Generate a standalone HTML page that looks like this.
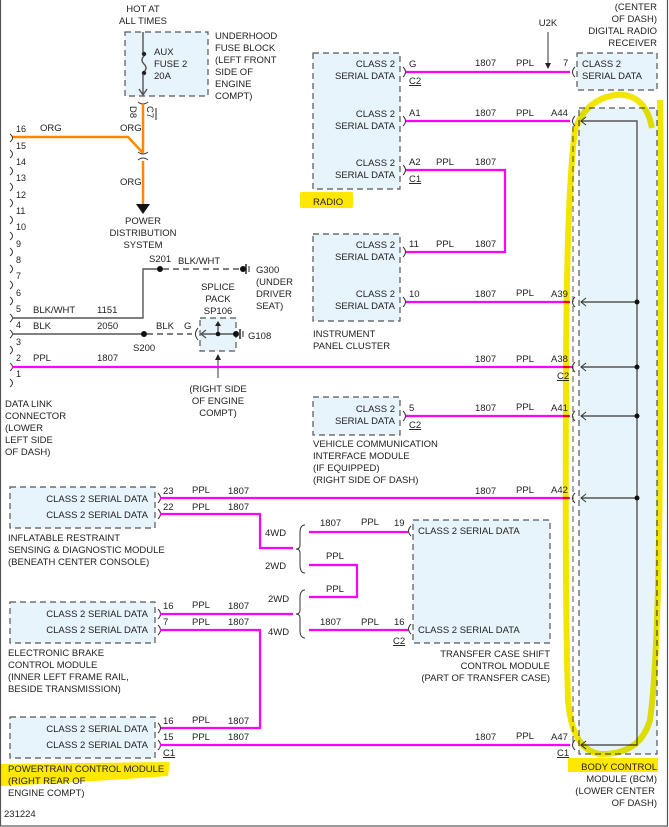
<!DOCTYPE html>
<html><head><meta charset="utf-8"><style>
html,body{margin:0;padding:0;background:#fff;}
svg{display:block;font-family:"Liberation Sans",sans-serif;font-size:9.5px;}
text{fill:#222;}
.box{fill:#e8f4fc;stroke:#555;stroke-width:1.2;stroke-dasharray:6,4;}
.p{stroke:#ff00ff;stroke-width:2.2;fill:none;}
.o{stroke:#ff8800;stroke-width:2.5;fill:none;}
.k{stroke:#555;stroke-width:1.4;fill:none;}
.kd{stroke:#555;stroke-width:1.6;fill:none;stroke-dasharray:6,4;}
.c{stroke:#333;stroke-width:1;fill:none;}
.r{text-anchor:end;}
.m{text-anchor:middle;}
.hl{mix-blend-mode:multiply;}
</style></head><body>
<svg width="669" height="827" viewBox="0 0 669 827">
<rect x="0.5" y="-1" width="667" height="827" fill="none" stroke="#555" stroke-width="1.2"/>
<!-- fuse block -->
<rect class="box" x="125" y="32" width="83" height="64"/>
<text class="m" x="143" y="12">HOT AT</text><text class="m" x="143" y="24">ALL TIMES</text>
<text x="215" y="39">UNDERHOOD</text><text x="215" y="51">FUSE BLOCK</text><text x="215" y="63">(LEFT FRONT</text><text x="215" y="75">SIDE OF</text><text x="215" y="87">ENGINE</text><text x="215" y="99">COMPT)</text>
<text x="154" y="55">AUX</text><text x="154" y="67">FUSE 2</text><text x="154" y="79">20A</text>
<line class="k" x1="143" y1="32" x2="143" y2="53"/><circle cx="144" cy="54" r="2.2" fill="#222"/>
<path class="k" d="M144 56 q-4 4 0 8 q4 4 0 8"/><circle cx="144" cy="73" r="2.2" fill="#222"/>
<line class="k" x1="143" y1="74" x2="143" y2="94"/><path class="k" d="M139 89 L143 95 L147 89"/>
<path class="c" d="M138 102 q5 4 10 0"/>
<text transform="translate(130,106) rotate(90)">D8</text><text transform="translate(147,106) rotate(90)">C7</text>
<line x1="156" y1="108" x2="156" y2="120" stroke="#222"/>
<line class="o" x1="143" y1="104" x2="143" y2="153"/>
<polyline class="o" points="12,137 128,137 143,153"/>
<path class="c" d="M138 152 q5 4 10 0 M138 160 q5 -4 10 0"/>
<line class="o" x1="143" y1="161" x2="143" y2="204"/>
<polygon points="136,204 150,204 143,214" fill="#111"/>
<text x="40" y="131">ORG</text><text x="120" y="131">ORG</text><text x="120" y="185">ORG</text>
<text class="m" x="143" y="224">POWER</text><text class="m" x="143" y="236">DISTRIBUTION</text><text class="m" x="143" y="248">SYSTEM</text>
<!-- left connector -->
<g class="c">
<path d="M10 134 q5 4 0 8 M10 150 q5 4 0 8 M10 167 q5 4 0 8 M10 183 q5 4 0 8 M10 199 q5 4 0 8 M10 216 q5 4 0 8 M10 232 q5 4 0 8 M10 248 q5 4 0 8 M10 265 q5 4 0 8 M10 281 q5 4 0 8 M10 297 q5 4 0 8 M10 314 q5 4 0 8 M10 330 q5 4 0 8 M10 346 q5 4 0 8 M10 363 q5 4 0 8 M10 379 q5 4 0 8"/>
</g>
<g font-size="9"><text x="16" y="132">16</text><text x="16" y="149">15</text><text x="16" y="165">14</text><text x="16" y="181">13</text><text x="16" y="198">12</text><text x="16" y="214">11</text><text x="16" y="230">10</text><text x="16" y="247">9</text><text x="16" y="263">8</text><text x="16" y="279">7</text><text x="16" y="296">6</text><text x="16" y="312">5</text><text x="16" y="328">4</text><text x="16" y="345">3</text><text x="16" y="361">2</text><text x="16" y="377">1</text></g>
<text x="33" y="313">BLK/WHT</text><text x="97" y="313">1151</text>
<text x="33" y="329">BLK</text><text x="97" y="329">2050</text>
<text x="33" y="361">PPL</text><text x="97" y="361">1807</text>
<polyline class="k" points="12,318 143,318 143,269 160,269"/>
<circle cx="160" cy="269" r="3" fill="#111"/>
<line class="kd" x1="163" y1="269" x2="240" y2="269"/>
<circle cx="243" cy="269" r="3" fill="#111"/><line x1="246" y1="264" x2="246" y2="274" stroke="#222" stroke-width="1.5"/><line x1="249" y1="266" x2="249" y2="272" stroke="#222"/>
<text x="149" y="262">S201</text><text x="178" y="264">BLK/WHT</text>
<text x="256" y="273">G300</text><text x="256" y="285">(UNDER</text><text x="256" y="297">DRIVER</text><text x="256" y="309">SEAT)</text>
<line class="k" x1="12" y1="334" x2="144" y2="334"/><circle cx="144" cy="334" r="3" fill="#111"/>
<line class="kd" x1="147" y1="334" x2="192" y2="334"/>
<text x="133" y="351">S200</text><text x="156" y="329">BLK</text><text x="184" y="329">G</text>
<rect class="box" x="200" y="318" width="36" height="33"/>
<path class="c" d="M198 328 q-5 6 0 12"/>
<line class="k" x1="201" y1="334" x2="236" y2="334"/><path class="k" d="M206 330 L201 334 L206 338"/>
<line class="k" x1="218" y1="334" x2="218" y2="324"/><polygon points="215,326 221,326 218,321" fill="#222"/>
<circle cx="218" cy="334" r="2.3" fill="#111"/><circle cx="236" cy="334" r="3" fill="#111"/>
<line x1="240" y1="329" x2="240" y2="339" stroke="#222" stroke-width="1.5"/><line x1="243" y1="331" x2="243" y2="337" stroke="#222"/>
<text x="248" y="339">G108</text>
<text class="m" x="218" y="290">SPLICE</text><text class="m" x="218" y="302">PACK</text><text class="m" x="218" y="314">SP106</text>
<line class="c" x1="218" y1="378" x2="218" y2="357"/><polygon points="215,360 221,360 218,354" fill="#222"/>
<text class="m" x="218" y="392">(RIGHT SIDE</text><text class="m" x="218" y="404">OF ENGINE</text><text class="m" x="218" y="416">COMPT)</text>
<text x="5" y="407">DATA LINK</text><text x="5" y="419">CONNECTOR</text><text x="5" y="431">(LOWER</text><text x="5" y="443">LEFT SIDE</text><text x="5" y="455">OF DASH)</text>
<line class="p" x1="12" y1="367" x2="572" y2="367"/>
<!-- radio -->
<rect class="box" x="313" y="53" width="87" height="136"/>
<text class="r" x="395" y="67">CLASS 2</text><text class="r" x="395" y="79">SERIAL DATA</text>
<text class="r" x="395" y="117">CLASS 2</text><text class="r" x="395" y="129">SERIAL DATA</text>
<text class="r" x="395" y="166">CLASS 2</text><text class="r" x="395" y="178">SERIAL DATA</text>
<rect x="300" y="192" width="53" height="16" fill="#ffe800" rx="2"/>
<text x="313" y="205">RADIO</text>
<path class="c" d="M403 67 q5 5 0 10 M403 116 q5 5 0 10 M403 165 q5 5 0 10"/>
<text x="409" y="67">G</text><text x="409" y="84" text-decoration="underline">C2</text>
<text x="409" y="116">A1</text><text x="409" y="165">A2</text><text x="409" y="182" text-decoration="underline">C1</text>
<line class="p" x1="406" y1="72" x2="570" y2="72"/>
<text x="475" y="66">1807</text><text x="516" y="66">PPL</text><text x="563" y="66">7</text>
<line class="c" x1="548" y1="32" x2="548" y2="66"/><polygon points="545,63 551,63 548,69" fill="#222"/>
<text class="m" x="548" y="26">U2K</text>
<line class="p" x1="406" y1="121" x2="570" y2="121"/>
<text x="475" y="116">1807</text><text x="516" y="116">PPL</text><text x="551" y="116">A44</text>
<polyline class="p" points="406,170 505,170 505,252 406,252"/>
<text x="436" y="165">PPL</text><text x="475" y="165">1807</text>
<!-- radio receiver -->
<rect class="box" x="577" y="53" width="80" height="37"/>
<path class="c" d="M575 67 q-5 5 0 10"/>
<text x="582" y="67">CLASS 2</text><text x="582" y="79">SERIAL DATA</text>
<text class="r" x="657" y="10">(CENTER</text><text class="r" x="657" y="22">OF DASH)</text><text class="r" x="657" y="34">DIGITAL RADIO</text><text class="r" x="657" y="46">RECEIVER</text>
<!-- IPC -->
<rect class="box" x="313" y="234" width="87" height="87"/>
<text class="r" x="395" y="248">CLASS 2</text><text class="r" x="395" y="260">SERIAL DATA</text>
<text class="r" x="395" y="297">CLASS 2</text><text class="r" x="395" y="309">SERIAL DATA</text>
<path class="c" d="M403 247 q5 5 0 10 M403 297 q5 5 0 10"/>
<text x="409" y="247">11</text><text x="436" y="247">PPL</text><text x="475" y="247">1807</text>
<text x="409" y="297">10</text>
<line class="p" x1="406" y1="302" x2="570" y2="302"/>
<text x="475" y="297">1807</text><text x="516" y="296">PPL</text><text x="551" y="297">A39</text>
<text x="313" y="337">INSTRUMENT</text><text x="313" y="349">PANEL CLUSTER</text>
<text x="475" y="362">1807</text><text x="516" y="362">PPL</text><text x="551" y="362">A38</text>
<text x="557" y="379" text-decoration="underline">C2</text>
<!-- VCIM -->
<rect class="box" x="313" y="397" width="87" height="38"/>
<text class="r" x="395" y="412">CLASS 2</text><text class="r" x="395" y="424">SERIAL DATA</text>
<path class="c" d="M403 411 q5 5 0 10"/>
<text x="409" y="411">5</text><text x="409" y="428" text-decoration="underline">C2</text>
<line class="p" x1="406" y1="416" x2="570" y2="416"/>
<text x="475" y="411">1807</text><text x="516" y="410">PPL</text><text x="551" y="411">A41</text>
<text x="313" y="447">VEHICLE COMMUNICATION</text><text x="313" y="459">INTERFACE MODULE</text><text x="313" y="471">(IF EQUIPPED)</text><text x="313" y="483">(RIGHT SIDE OF DASH)</text>
<!-- BCM -->
<rect class="box" x="579" y="108" width="78" height="646"/>
<line x1="573" y1="126" x2="573" y2="742" stroke="#555" stroke-dasharray="6,4"/>
<polyline class="k" points="581,121 637,121 637,745 581,745"/>
<g class="k"><line x1="581" y1="302" x2="637" y2="302"/><line x1="581" y1="367" x2="637" y2="367"/><line x1="581" y1="416" x2="637" y2="416"/><line x1="581" y1="498" x2="637" y2="498"/></g>
<g fill="#111"><circle cx="637" cy="302" r="2.5"/><circle cx="637" cy="367" r="2.5"/><circle cx="637" cy="416" r="2.5"/><circle cx="637" cy="498" r="2.5"/></g>
<g class="c"><path d="M586 117 L581 121 L586 125 M586 298 L581 302 L586 306 M586 363 L581 367 L586 371 M586 412 L581 416 L586 420 M586 494 L581 498 L586 502 M586 741 L581 745 L586 749"/>
<path d="M575 116 q-5 5 0 10 M575 297 q-5 5 0 10 M575 362 q-5 5 0 10 M575 411 q-5 5 0 10 M575 493 q-5 5 0 10 M575 740 q-5 5 0 10"/></g>
<!-- IRSDM -->
<rect class="box" x="10" y="487" width="145" height="41"/>
<text class="r" x="148" y="502">CLASS 2 SERIAL DATA</text><text class="r" x="148" y="518">CLASS 2 SERIAL DATA</text>
<path class="c" d="M158 493 q5 5 0 10 M158 509 q5 5 0 10"/>
<text x="163" y="494">23</text><text x="192" y="493">PPL</text><text x="228" y="494">1807</text>
<text x="163" y="510">22</text><text x="192" y="510">PPL</text><text x="228" y="510">1807</text>
<line class="p" x1="160" y1="498" x2="570" y2="498"/>
<text x="475" y="494">1807</text><text x="516" y="493">PPL</text><text x="551" y="493">A42</text>
<polyline class="p" points="160,514 260,514 260,548 293,548"/>
<text x="8" y="541">INFLATABLE RESTRAINT</text><text x="8" y="553">SENSING &amp; DIAGNOSTIC MODULE</text><text x="8" y="565">(BENEATH CENTER CONSOLE)</text>
<!-- brackets -->
<path class="c" d="M305 525 q-5 0 -5 8 v12 q0 4 -4 4 q4 0 4 4 v12 q0 8 5 8"/>
<path class="c" d="M305 590 q-5 0 -5 8 v12 q0 4 -4 4 q4 0 4 4 v12 q0 8 5 8"/>
<text x="265" y="536">4WD</text><text x="265" y="569">2WD</text><text x="268" y="602">2WD</text><text x="268" y="635">4WD</text>
<line class="p" x1="309" y1="532" x2="408" y2="532"/>
<text x="320" y="526">1807</text><text x="361" y="525">PPL</text><text x="394" y="526">19</text>
<polyline class="p" points="309,565 357,565 357,597 309,597"/>
<text x="326" y="559">PPL</text><text x="326" y="592">PPL</text>
<line class="p" x1="309" y1="630" x2="408" y2="630"/>
<text x="320" y="625">1807</text><text x="361" y="625">PPL</text><text x="394" y="625">16</text>
<text x="393" y="644" text-decoration="underline">C2</text>
<!-- transfer case -->
<rect class="box" x="413" y="520" width="137" height="123"/>
<path class="c" d="M411 526 q-5 5 0 10 M411 624 q-5 5 0 10"/>
<text x="418" y="534">CLASS 2 SERIAL DATA</text><text x="418" y="633">CLASS 2 SERIAL DATA</text>
<text class="r" x="550" y="657">TRANSFER CASE SHIFT</text><text class="r" x="550" y="669">CONTROL MODULE</text><text class="r" x="550" y="681">(PART OF TRANSFER CASE)</text>
<!-- EBCM -->
<rect class="box" x="10" y="602" width="145" height="41"/>
<text class="r" x="148" y="617">CLASS 2 SERIAL DATA</text><text class="r" x="148" y="633">CLASS 2 SERIAL DATA</text>
<path class="c" d="M158 609 q5 5 0 10 M158 625 q5 5 0 10"/>
<text x="163" y="609">16</text><text x="192" y="608">PPL</text><text x="228" y="609">1807</text>
<text x="163" y="625">7</text><text x="192" y="625">PPL</text><text x="228" y="625">1807</text>
<line class="p" x1="160" y1="614" x2="293" y2="614"/>
<polyline class="p" points="160,630 260,630 260,728 160,728"/>
<text x="8" y="656">ELECTRONIC BRAKE</text><text x="8" y="668">CONTROL MODULE</text><text x="8" y="680">(INNER LEFT FRAME RAIL,</text><text x="8" y="692">BESIDE TRANSMISSION)</text>
<!-- PCM -->
<rect class="box" x="10" y="717" width="145" height="41"/>
<text class="r" x="148" y="732">CLASS 2 SERIAL DATA</text><text class="r" x="148" y="748">CLASS 2 SERIAL DATA</text>
<path class="c" d="M158 723 q5 5 0 10 M158 740 q5 5 0 10"/>
<text x="163" y="724">16</text><text x="192" y="723">PPL</text><text x="228" y="724">1807</text>
<text x="163" y="740">15</text><text x="192" y="740">PPL</text><text x="228" y="740">1807</text>
<text x="163" y="756" text-decoration="underline">C1</text>
<line class="p" x1="160" y1="745" x2="570" y2="745"/>
<text x="475" y="740">1807</text><text x="516" y="739">PPL</text><text x="551" y="740">A47</text>
<text x="557" y="756" text-decoration="underline">C1</text>
<path class="hl" d="M0 764 L170 762 L168 776 Q90 782 0 786 Z" fill="#ffe800"/>
<text x="8" y="772">POWERTRAIN CONTROL MODULE</text><text x="8" y="784">(RIGHT REAR OF</text><text x="8" y="796">ENGINE COMPT)</text>
<text x="4" y="817">231224</text>
<!-- BCM highlight -->
<path class="hl" d="M652 128 Q645 92 615 95 Q585 100 575 130 Q566 200 566 400 Q565 600 568 700 Q572 750 600 754 Q640 755 650 720 Q660 650 660 400 Q662 200 660 100" fill="none" stroke="#f2e600" stroke-width="6"/>
<rect class="hl" x="568" y="758" width="90" height="14" fill="#ffe800"/>
<text class="r" x="657" y="770">BODY CONTROL</text><text class="r" x="657" y="782">MODULE (BCM)</text><text class="r" x="655" y="794">(LOWER CENTER</text><text class="r" x="657" y="806">OF DASH)</text>
</svg>
</body></html>
